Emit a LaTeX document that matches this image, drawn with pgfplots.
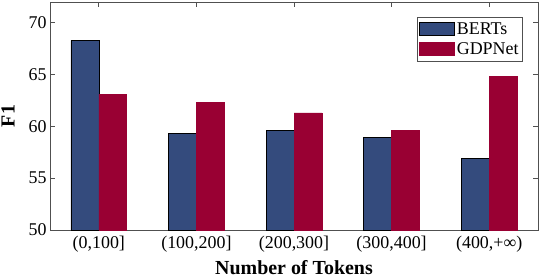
\documentclass[border=0pt]{standalone}
\usepackage{fontspec}
\setmainfont{Liberation Serif}
\usepackage{pgfplots}
\pgfplotsset{compat=1.18}
\definecolor{bertc}{RGB}{52,75,125}
\definecolor{gdpc}{RGB}{153,0,51}
\definecolor{axc}{RGB}{80,80,80}
\begin{document}
\begin{tikzpicture}
\useasboundingbox (-50bp,-50bp) rectangle (490bp,230bp);
\begin{axis}[
  scale only axis, width=488bp, height=228bp,
  at={(0,0)}, anchor=south west,
  xmin=-0.5, xmax=4.5, ymin=50, ymax=72,
  xtick={0,1,2,3,4},
  xticklabels={{(0,100]},{(100,200]},{(200,300]},{(300,400]},{(400,+∞)}},
  ytick={50,55,60,65,70},
  /pgf/number format/assume math mode=true,
  tick label style={font=\fontsize{18}{20}\selectfont},
  xticklabel style={yshift=-3bp},
  tick align=inside, major tick length=5bp,
  axis line style={axc, line width=0.8pt},
  every tick/.style={axc, line width=0.8pt},
  ylabel={\bfseries F1},
  xlabel={\bfseries Number of Tokens},
  label style={font=\fontsize{20}{22}\selectfont},
  ylabel style={at={(axis description cs:-0.086,0.5)}, anchor=center, rotate=0},
  xlabel style={at={(axis description cs:0.5,-0.167)}, anchor=center},
  legend style={at={(rel axis cs:1,1)}, anchor=north east, xshift=-15bp, yshift=-15bp,
    draw=axc, line width=0.8pt, font=\fontsize{18}{20}\selectfont, row sep=3bp,
    inner xsep=2bp, inner ysep=3bp},
  legend cell align=left,
  legend image code/.code={\draw[#1, line width=0.6pt] (0bp,-6bp) rectangle (35bp,7bp);},
]
\addplot[ybar, bar width=0.286, bar shift=-0.143, fill=bertc, draw=black, line width=0.6pt]
  coordinates {(0,68.3) (1,59.3) (2,59.6) (3,58.9) (4,56.9)};
\addplot[ybar, bar width=0.286, bar shift=0.143, fill=gdpc, draw=gdpc, line width=0.6pt]
  coordinates {(0,63.1) (1,62.3) (2,61.3) (3,59.6) (4,64.8)};
\legend{BERTs, GDPNet}
\end{axis}
\end{tikzpicture}
\end{document}
